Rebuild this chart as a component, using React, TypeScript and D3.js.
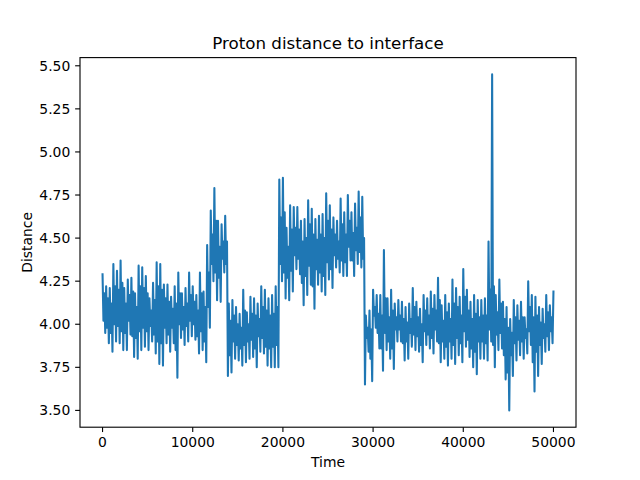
import * as d3 from 'd3';
import React from 'react';

// envelope of the trace, one column every 400 time steps:
// peak at i*400, inner low at +100, inner high at +200, trough at +300
const peaks = [
  4.29, 4.22, 4.21, 4.35, 4.31, 4.37, 4.21, 4.26, 4.27, 4.18,
  4.34, 4.33, 4.28, 4.15, 4.24, 4.36, 4.35, 4.23, 4.23, 4.16,
  4.22, 4.30, 4.18, 4.21, 4.30, 4.22, 4.17, 4.30, 4.19, 4.46,
  4.66, 4.79, 4.60, 4.58, 4.63, 4.12, 4.14, 4.10, 4.06, 4.20,
  4.07, 4.16, 4.15, 4.12, 4.22, 4.20, 4.15, 4.17, 4.22, 4.84,
  4.85, 4.56, 4.69, 4.68, 4.68, 4.60, 4.61, 4.72, 4.67, 4.61,
  4.63, 4.64, 4.76, 4.69, 4.62, 4.60, 4.73, 4.65, 4.75, 4.65,
  4.70, 4.77, 4.74, 4.05, 4.08, 4.20, 4.17, 4.17, 4.43, 4.15,
  4.20, 4.12, 4.14, 4.13, 4.10, 4.12, 4.21, 4.13, 4.09, 4.17,
  4.15, 4.19, 4.17, 4.27, 4.11, 4.17, 4.12, 4.26, 4.21, 4.16,
  4.32, 4.20, 4.13, 4.17, 4.14, 4.14, 4.15, 4.48, 5.45, 4.17,
  4.26, 4.13, 4.10, 4.03, 4.14, 4.11, 4.13, 4.04, 4.25, 4.17,
  4.16, 4.10, 4.09, 4.17, 4.11, 4.19,
];
const innerLows = [
  4.02, 3.98, 3.95, 4.00, 3.99, 3.96, 3.95, 4.02, 3.93, 3.92,
  3.96, 3.98, 3.96, 3.99, 3.94, 3.90, 3.89, 3.98, 3.94, 3.98,
  3.85, 4.00, 3.97, 3.99, 4.02, 4.00, 3.93, 3.96, 3.90, 4.10,
  4.35, 4.30, 4.27, 4.38, 4.35, 3.82, 3.90, 3.88, 3.86, 3.88,
  3.90, 3.91, 3.86, 3.93, 3.92, 3.87, 3.86, 3.87, 3.88, 4.35,
  4.30, 4.27, 4.31, 4.40, 4.38, 4.24, 4.28, 4.34, 4.22, 4.32,
  4.30, 4.28, 4.36, 4.32, 4.40, 4.38, 4.37, 4.36, 4.45, 4.37,
  4.43, 4.42, 4.38, 3.92, 3.80, 4.05, 3.95, 3.86, 3.95, 3.90,
  3.86, 3.97, 3.97, 3.89, 3.90, 3.95, 3.94, 3.93, 3.88, 3.96,
  3.94, 3.92, 3.97, 3.89, 3.90, 3.87, 3.90, 3.88, 3.92, 3.89,
  3.96, 3.91, 3.86, 3.84, 3.90, 3.90, 3.89, 3.97, 3.88, 3.94,
  3.95, 3.82, 3.72, 3.82, 3.89, 3.91, 3.90, 3.92, 3.96, 3.78,
  3.84, 3.88, 3.92, 3.93, 3.96,
];
const innerHighs = [
  4.18, 4.15, 4.12, 4.22, 4.20, 4.24, 4.12, 4.17, 4.19, 4.10,
  4.22, 4.21, 4.18, 4.08, 4.14, 4.22, 4.20, 4.15, 4.13, 4.09,
  4.12, 4.18, 4.10, 4.12, 4.17, 4.13, 4.08, 4.18, 4.10, 4.30,
  4.52, 4.60, 4.45, 4.48, 4.48, 4.02, 4.05, 4.00, 3.98, 4.08,
  4.00, 4.06, 4.05, 4.03, 4.10, 4.08, 4.05, 4.06, 4.10, 4.62,
  4.65, 4.45, 4.55, 4.56, 4.55, 4.48, 4.50, 4.58, 4.52, 4.49,
  4.52, 4.50, 4.60, 4.55, 4.52, 4.48, 4.58, 4.52, 4.60, 4.53,
  4.56, 4.62, 4.50, 3.98, 3.97, 4.10, 4.06, 4.05, 4.15, 4.04,
  4.08, 4.04, 4.05, 4.03, 4.01, 4.03, 4.10, 4.04, 4.00, 4.08,
  4.05, 4.09, 4.08, 4.14, 4.02, 4.07, 4.03, 4.12, 4.10, 4.05,
  4.16, 4.08, 4.03, 4.06, 4.04, 4.05, 4.05, 4.20, 4.22, 4.07,
  4.12, 4.03, 3.98, 3.95, 4.04, 4.02, 4.04, 3.97, 4.10, 4.04,
  4.05, 4.01, 4.00, 4.07, 4.04,
];
const troughs = [
  3.95, 3.89, 3.84, 3.90, 3.89, 3.85, 3.85, 3.94, 3.81, 3.80,
  3.85, 3.87, 3.85, 3.90, 3.83, 3.77, 3.76, 3.89, 3.84, 3.89,
  3.69, 3.92, 3.88, 3.90, 3.93, 3.91, 3.83, 3.85, 3.78, 3.98,
  4.25, 4.14, 4.13, 4.30, 3.70, 3.72, 3.80, 3.79, 3.76, 3.78,
  3.80, 3.81, 3.75, 3.84, 3.83, 3.76, 3.75, 3.75, 3.75, 4.25,
  4.15, 4.14, 4.19, 4.32, 4.29, 4.11, 4.17, 4.23, 4.09, 4.23,
  4.19, 4.17, 4.26, 4.21, 4.33, 4.30, 4.28, 4.28, 4.37, 4.28,
  4.35, 4.33, 3.65, 3.84, 3.67, 3.98, 3.86, 3.73, 3.85, 3.80,
  3.74, 3.90, 3.90, 3.79, 3.80, 3.87, 3.85, 3.84, 3.78, 3.88,
  3.86, 3.83, 3.90, 3.78, 3.80, 3.76, 3.80, 3.77, 3.82, 3.78,
  3.87, 3.81, 3.75, 3.71, 3.80, 3.80, 3.79, 3.90, 3.75, 3.85,
  3.86, 3.68, 3.50, 3.70, 3.79, 3.82, 3.80, 3.83, 3.88, 3.61,
  3.70, 3.77, 3.84, 3.85, 3.89,
];
const xTicks = [0, 10000, 20000, 30000, 40000, 50000];
const yTicks = [3.5, 3.75, 4.0, 4.25, 4.5, 4.75, 5.0, 5.25, 5.5];

const W = 640;
const H = 480;
const left = 80;
const right = 576;
const top = 57.6;
const bottom = 427.2;
const font = 'DejaVu Sans, sans-serif';

const App = () => {
  // interleave the four readings of each column into one trace
  const series: [number, number][] = [];
  peaks.forEach((p, i) => {
    series.push([i * 400, p]);
    if (i < troughs.length) {
      series.push([i * 400 + 100, innerLows[i]]);
      series.push([i * 400 + 200, innerHighs[i]]);
      series.push([i * 400 + 300, troughs[i]]);
    }
  });

  const xExt = d3.extent(series, (d) => d[0]) as [number, number];
  const yExt = d3.extent(series, (d) => d[1]) as [number, number];
  const xPad = (xExt[1] - xExt[0]) * 0.05;
  const yPad = (yExt[1] - yExt[0]) * 0.05;

  const x = d3.scaleLinear().domain([xExt[0] - xPad, xExt[1] + xPad]).range([left, right]);
  const y = d3.scaleLinear().domain([yExt[0] - yPad, yExt[1] + yPad]).range([bottom, top]);

  const path = d3
    .line<[number, number]>()
    .x((d) => x(d[0]))
    .y((d) => y(d[1]))(series);

  const tickLen = 4.86;

  return (
    <svg
      width={W}
      height={H}
      style={{ position: 'absolute', left: 0, top: 0, background: '#fff' }}
      fontFamily={font}
    >
      <rect x={0} y={0} width={W} height={H} fill='#fff' />
      <path
        d={path ?? ''}
        fill='none'
        stroke='#1f77b4'
        strokeWidth={2.08}
        strokeLinejoin='round'
        strokeLinecap='square'
      />
      <rect
        x={left}
        y={top}
        width={right - left}
        height={bottom - top}
        fill='none'
        stroke='#000'
        strokeWidth={1.11}
      />
      {xTicks.map((t) => (
        <g key={t}>
          <line x1={x(t)} x2={x(t)} y1={bottom} y2={bottom + tickLen} stroke='#000' strokeWidth={1.11} />
          <text x={x(t)} y={bottom + 20} textAnchor='middle' fontSize={13.9} fill='#000'>
            {t}
          </text>
        </g>
      ))}
      {yTicks.map((t) => (
        <g key={t}>
          <line x1={left - tickLen} x2={left} y1={y(t)} y2={y(t)} stroke='#000' strokeWidth={1.11} />
          <text x={left - 9.7} y={y(t) + 5} textAnchor='end' fontSize={13.9} fill='#000'>
            {d3.format('.2f')(t)}
          </text>
        </g>
      ))}
      <text x={(left + right) / 2} y={49} textAnchor='middle' fontSize={16.7} fill='#000'>
        Proton distance to interface
      </text>
      <text x={(left + right) / 2} y={467} textAnchor='middle' fontSize={13.9} fill='#000'>
        Time
      </text>
      <text
        transform={`translate(32, ${(top + bottom) / 2}) rotate(-90)`}
        textAnchor='middle'
        fontSize={13.9}
        fill='#000'
      >
        Distance
      </text>
    </svg>
  );
};

export default App;
